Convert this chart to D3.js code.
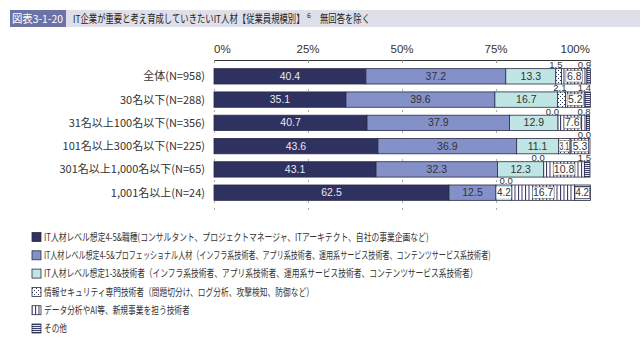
<!DOCTYPE html>
<html><head><meta charset="utf-8">
<script src="https://cdn.jsdelivr.net/npm/d3@7"></script>
<style>
body{margin:0;background:#fff;}
svg{display:block;font-family:"Noto Sans CJK JP","Noto Sans",sans-serif;}
.num{font-family:"Liberation Sans",Arial,sans-serif;}
</style></head>
<body>
<svg id="c" width="642" height="349"></svg>
<script>
const categories = ["全体(N=958)","30名以下(N=288)","31名以上100名以下(N=356)","101名以上300名以下(N=225)","301名以上1,000名以下(N=65)","1,001名以上(N=24)"];
const seriesNames = [
 "IT人材レベル想定4-5&職種(コンサルタント、プロジェクトマネージャ、ITアーキテクト、自社の事業企画など)",
 "IT人材レベル想定4-5&プロフェッショナル人材（インフラ系技術者、アプリ系技術者、運用系サービス技術者、コンテンツサービス系技術者)",
 "IT人材レベル想定1-3&技術者（インフラ系技術者、アプリ系技術者、運用系サービス技術者、コンテンツサービス系技術者）",
 "情報セキュリティ専門技術者（問題切分け、ログ分析、攻撃検知、防御など）",
 "データ分析やAI等、新規事業を担う技術者",
 "その他"
];
const s1 = [40.4,35.1,40.7,43.6,43.1,62.5];
const s2 = [37.2,39.6,37.9,36.9,32.3,12.5];
const s3 = [13.3,16.7,12.9,11.1,12.3,4.2];
const s4 = [1.5,2.1,0.0,3.1,0.0,0.0];
const s5 = [6.8,5.2,7.6,5.3,10.8,16.7];
const s6 = [0.9,1.4,0.8,0.0,1.5,4.2];
const tickValues = [0,25,50,75,100];
const tickLabels = ["0%","25%","50%","75%","100%"];
const figNo = "図表3-1-20";
const title = "IT企業が重要と考え育成していきたいIT人材【従業員規模別】";
const note = "無回答を除く";

const series = [s1,s2,s3,s4,s5,s6];
const svg = d3.select("#c");
const defs = svg.append("defs");

// place a text at (x,y) and horizontally condense it to a target width (via transform)
function fitText(parent, str, x, y, size, color, width, anchor, cls) {
  const t = parent.append("text").attr("font-size",size).attr("fill",color).text(str);
  if (cls) t.attr("class",cls);
  const nat = t.node().getComputedTextLength();
  const s = width ? Math.min(1, width/nat) : 1;
  const w = nat*s;
  const x0 = anchor==="middle" ? x - w/2 : anchor==="end" ? x - w : x;
  t.attr("transform",`translate(${x0},${y}) scale(${s},1)`);
  return t;
}

// patterns
const pd = defs.append("pattern").attr("id","pDots").attr("patternUnits","userSpaceOnUse").attr("width",4).attr("height",4);
pd.append("rect").attr("width",4).attr("height",4).attr("fill","#fff");
pd.append("rect").attr("x",0).attr("y",0).attr("width",1).attr("height",1).attr("fill","#333a60");
pd.append("rect").attr("x",2).attr("y",2).attr("width",1).attr("height",1).attr("fill","#333a60");
const pv = defs.append("pattern").attr("id","pVert").attr("patternUnits","userSpaceOnUse").attr("width",3.5).attr("height",4);
pv.append("rect").attr("width",3.5).attr("height",4).attr("fill","#fff");
pv.append("rect").attr("x",0).attr("y",0).attr("width",1).attr("height",4).attr("fill","#2f3160");
const ph = defs.append("pattern").attr("id","pHor").attr("patternUnits","userSpaceOnUse").attr("width",4).attr("height",2);
ph.append("rect").attr("width",4).attr("height",2).attr("fill","#e8e8f0");
ph.append("rect").attr("x",0).attr("y",0).attr("width",4).attr("height",1).attr("fill","#3a3f6a");

const fills = ["#2f3160","#8490c8","#bfe5e4","url(#pDots)","url(#pVert)","url(#pHor)"];
const patterned = [false,false,false,true,true,true];

// title band
svg.append("rect").attr("x",10).attr("y",10).attr("width",630).attr("height",17).attr("fill","#dfdfe9");
svg.append("rect").attr("x",10).attr("y",10).attr("width",56).attr("height",17).attr("fill","#6e73a6");
fitText(svg, figNo, 12, 22.5, 11, "#fff", 51, "start");
fitText(svg, title, 73, 22.5, 11, "#222", 232, "start");
svg.append("text").attr("x",307).attr("y",18).attr("fill","#222").attr("font-size",7).text("6");
fitText(svg, note, 320, 22.5, 11, "#222", 50, "start");

const x = d3.scaleLinear().domain([0,100]).range([214,590]);
const y = d3.scaleBand().domain(categories).range([64,205]).paddingInner(0.34).paddingOuter(0.2);

// axis labels
svg.selectAll(".tl").data(tickValues).enter().append("text").attr("class","num")
 .attr("x",d=>x(d)).attr("y",53).attr("font-size",11.5).attr("fill","#333")
 .attr("text-anchor",(d,i)=>i===0?"start":(i===tickValues.length-1?"end":"middle"))
 .text((d,i)=>tickLabels[i]);
// axis line with ticks
const ax = svg.append("g").attr("transform","translate(0,60)").call(d3.axisTop(x).tickValues(tickValues).tickSize(-3).tickFormat(""));
ax.select(".domain").attr("stroke","#333").attr("stroke-width",1).attr("d",`M${x(0)},0.5H${x(100)}`);
ax.selectAll(".tick line").attr("stroke","#888");
// gridlines
svg.selectAll(".gl").data(tickValues.slice(0,4)).enter().append("line")
 .attr("x1",d=>x(d)+0.5).attr("x2",d=>x(d)+0.5).attr("y1",61).attr("y2",210)
 .attr("stroke","#999").attr("stroke-width",0.8).attr("stroke-dasharray","2,5");

// bars
categories.forEach((cat,ci)=>{
  let acc = 0;
  const g = svg.append("g");
  const by = y(cat), bh = y.bandwidth();
  series.forEach((s,si)=>{
    const v = s[ci];
    const x0 = x(acc), x1 = x(Math.min(acc+v,100.2));
    if (v>0) {
      g.append("rect").attr("x",x0).attr("y",by).attr("width",x1-x0).attr("height",bh)
       .attr("fill",fills[si]).attr("stroke","#2a2b45").attr("stroke-width",0.8);
    }
    acc += v;
  });
  // labels
  acc = 0;
  series.forEach((s,si)=>{
    const v = s[ci];
    const x0 = x(acc), x1 = x(Math.min(acc+v,100));
    const cx = (x0+x1)/2;
    const lbl = v.toFixed(1);
    if (v >= 3) {
      const needBox = patterned[si] || v < 5;
      const segW = x1-x0;
      if (needBox) {
        const w = Math.min(lbl.length*5.2+1, segW-1);
        g.append("rect").attr("x",cx-w/2).attr("y",by+2).attr("width",w).attr("height",bh-4)
         .attr("fill","#fff").attr("stroke", patterned[si]?"#555":"none").attr("stroke-width",0.5);
      }
      fitText(g, lbl, cx, by+bh/2+3.6, 10.5, si===0?"#e8e8f0":"#333", segW-2, "middle", "num");
    } else {
      fitText(g, lbl, x1+1, by-0.6, 9.5, "#333", null, "end", "num");
    }
    acc += v;
  });
  svg.append("text").attr("x",205).attr("y",by+bh/2+4).attr("text-anchor","end")
   .attr("font-size",11).attr("fill","#333").text(cat);
});

// legend
const legendWidths = [385,447,434,270,146,23];
const lg = svg.append("g");
seriesNames.forEach((n,i)=>{
  const ly = 237 + i*18.3;
  lg.append("rect").attr("x",32).attr("y",ly-4.5).attr("width",9).attr("height",9)
    .attr("fill",fills[i]).attr("stroke","#2a2b45").attr("stroke-width",0.8);
  fitText(lg, n, 44, ly+3.8, 10.5, "#333", legendWidths[i], "start");
});
</script>
</body></html>
